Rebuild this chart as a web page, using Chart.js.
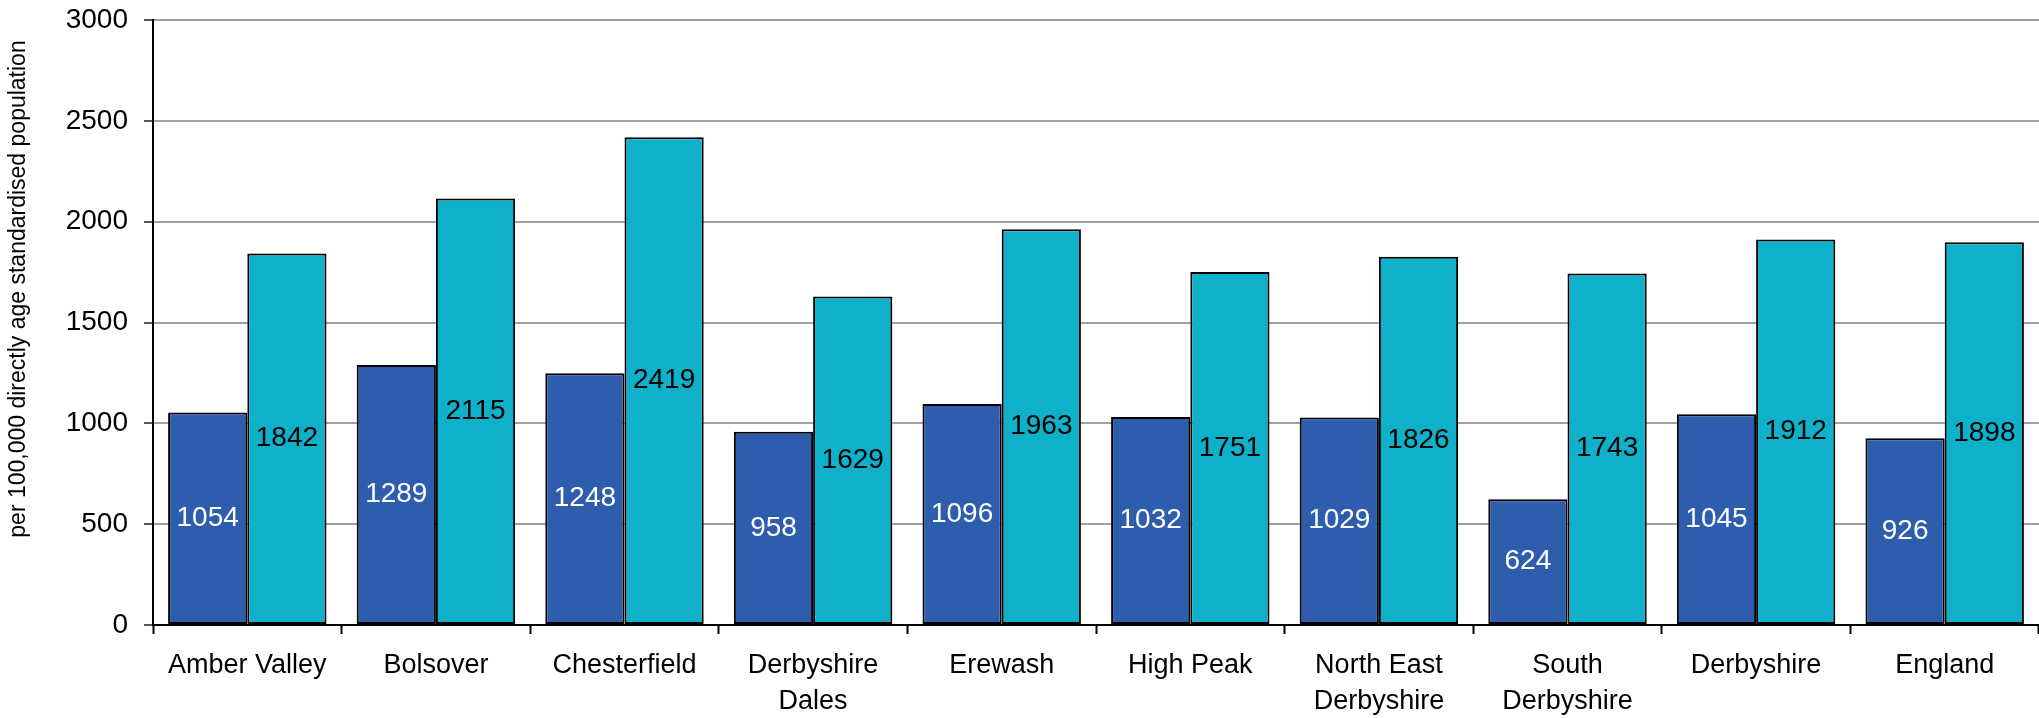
<!DOCTYPE html>
<html>
<head>
<meta charset="utf-8">
<script src="https://cdn.jsdelivr.net/npm/chart.js@4.4.1/dist/chart.umd.min.js"></script>
<style>
    html, body { margin: 0; padding: 0; background: #fff; }
    #wrap { width: 2039px; height: 718px; }
</style>
</head>
<body>
<div id="wrap"><canvas id="chart"></canvas></div>
<script>
const areas = [
    'Amber Valley', 'Bolsover', 'Chesterfield', ['Derbyshire', 'Dales'], 'Erewash',
    'High Peak', ['North East', 'Derbyshire'], ['South', 'Derbyshire'], 'Derbyshire', 'England'
];
const seriesA = [1054, 1289, 1248, 958, 1096, 1032, 1029, 624, 1045, 926];
const seriesB = [1842, 2115, 2419, 1629, 1963, 1751, 1826, 1743, 1912, 1898];
const yTicks  = [0, 500, 1000, 1500, 2000, 2500, 3000];
const yTitle  = 'per 100,000 directly age standardised population';

const FONT = 'Arial, "Liberation Sans", sans-serif';

// values written in the middle of every bar
const barLabels = {
    id: 'barLabels',
    afterDatasetsDraw(chart) {
        const ctx = chart.ctx;
        ctx.save();
        ctx.font = '28px ' + FONT;
        ctx.textAlign = 'center';
        ctx.textBaseline = 'middle';
        chart.data.datasets.forEach((ds, i) => {
            ctx.fillStyle = i === 0 ? '#ffffff' : '#000000';
            chart.getDatasetMeta(i).data.forEach((bar, j) => {
                ctx.fillText(String(ds.data[j]), bar.x, (bar.y + bar.base) / 2);
            });
        });
        ctx.restore();
    }
};

// rotated axis title, sits a bit above the middle like the original
const axisTitle = {
    id: 'axisTitle',
    afterDraw(chart) {
        const ctx = chart.ctx;
        ctx.save();
        ctx.translate(19, 289);
        ctx.rotate(-Math.PI / 2);
        ctx.font = '23px ' + FONT;
        ctx.fillStyle = '#000';
        ctx.textAlign = 'center';
        ctx.textBaseline = 'middle';
        ctx.fillText(yTitle, 0, 0);
        ctx.restore();
    }
};

new Chart(document.getElementById('chart'), {
    type: 'bar',
    data: {
        labels: areas,
        datasets: [
            { data: seriesA, backgroundColor: '#2E5DAE', borderColor: '#000', borderWidth: 2, borderSkipped: false },
            { data: seriesB, backgroundColor: '#0FB0CA', borderColor: '#000', borderWidth: 2, borderSkipped: false },
        ],
    },
    options: {
        responsive: true,
        maintainAspectRatio: false,
        animation: false,
        datasets: { bar: { categoryPercentage: 0.84, barPercentage: 1.0 } },
        layout: { padding: { top: 20, right: 0, left: 0, bottom: 0 } },
        plugins: {
            legend: { display: false },
            tooltip: { enabled: false },
        },
        scales: {
            x: {
                grid: { display: true, drawOnChartArea: false, offset: true, color: '#000', tickLength: 9, tickWidth: 2 },
                border: { color: '#000', width: 2 },
                ticks: { color: '#000', font: { family: FONT, size: 27, lineHeight: 1.33 }, padding: 14, maxRotation: 0, autoSkip: false },
                afterFit(scale) { scale.height = 93; },
            },
            y: {
                min: 0,
                max: 3000,
                afterBuildTicks(scale) { scale.ticks = yTicks.map(v => ({ value: v })); },
                grid: { color: '#A0A0A0', lineWidth: 2, tickLength: 9, tickColor: '#555' },
                border: { color: '#000', width: 2 },
                ticks: { color: '#000', font: { family: FONT, size: 28 }, padding: 16, callback: v => String(v) },
                afterFit(scale) {
                    scale.width = 153;
                    // the label padding would push the plot down; keep the top at 20px
                    scale.paddingTop = 0;
                    scale.paddingBottom = 0;
                },
            },
        },
    },
    plugins: [barLabels, axisTitle],
});
</script>
</body>
</html>
